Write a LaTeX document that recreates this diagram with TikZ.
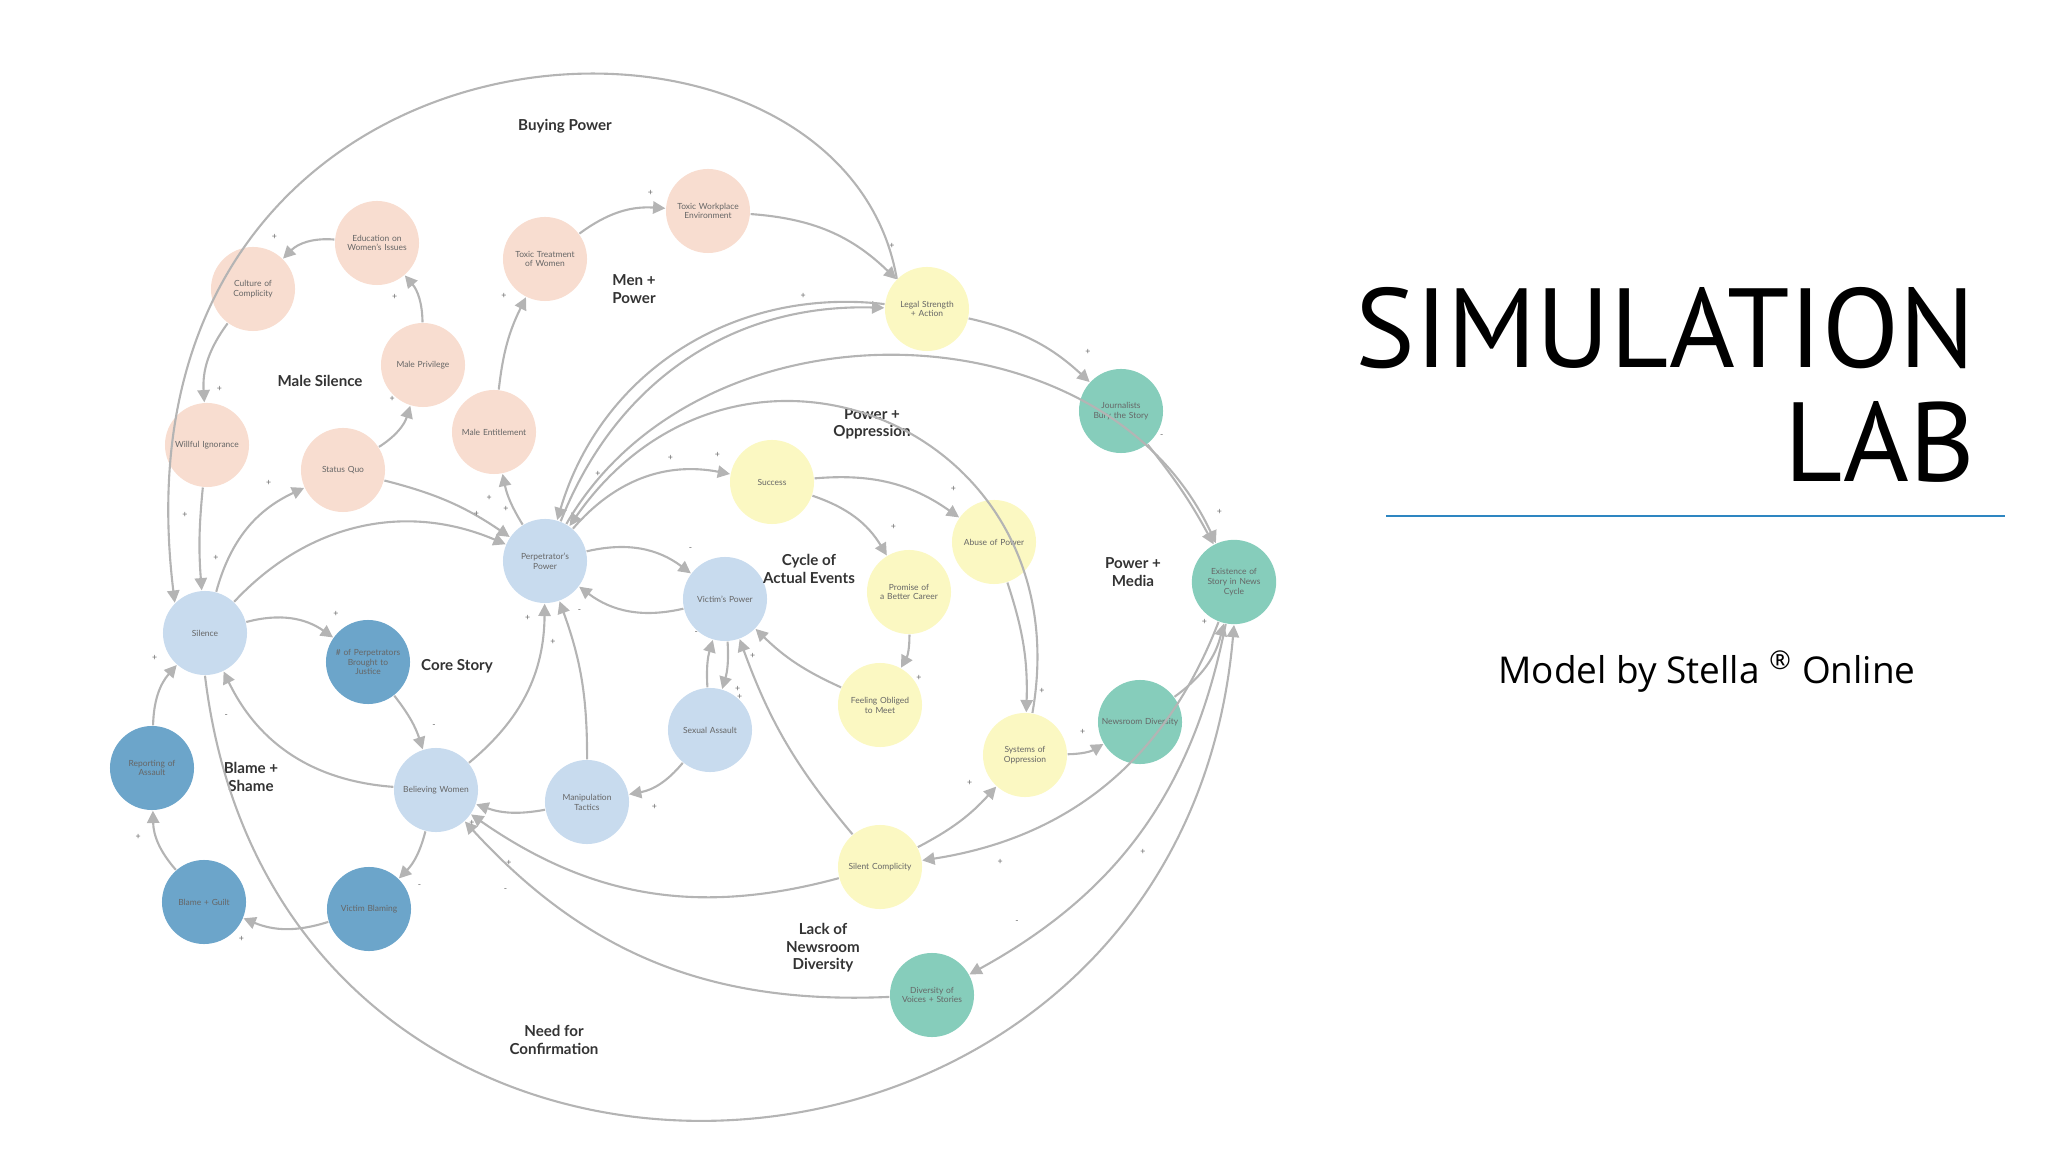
\documentclass[tikz,border=0pt]{standalone}
\usepackage{fontspec}
\setmainfont{Lato}
\newfontfamily\titlefont{PT Sans}
\newfontfamily\subfont{Open Sans}
\usetikzlibrary{arrows.meta}
\definecolor{peach}{HTML}{F8DDD0}
\definecolor{lemon}{HTML}{FBF8C2}
\definecolor{sky}{HTML}{C8DBEE}
\definecolor{deepsky}{HTML}{6CA5CA}
\definecolor{teal}{HTML}{86CDBB}
\definecolor{wire}{HTML}{B4B4B4}
\definecolor{rule}{HTML}{2E86C1}
\tikzset{
  var/.style={circle, minimum size=0.84cm, inner sep=0pt, align=center, text width=0.8cm,
    font=\fontsize{2.4}{2.8}\selectfont, text=black!60},
  pk/.style={var, fill=peach},
  yl/.style={var, fill=lemon},
  lb/.style={var, fill=sky},
  db/.style={var, fill=deepsky},
  tl/.style={var, fill=teal},
  grp/.style={align=center, font=\fontsize{4.3}{5}\selectfont\bfseries, text=black!80},
  lnk/.style={draw=wire, line width=0.6pt, -{Triangle[length=3.5pt,width=3.5pt]}},
  sg/.style={font=\fontsize{2.5}{3}\selectfont, text=black!60, pos=0.85, auto}
}
\begin{document}
\begin{tikzpicture}[x=0.01cm, y=-0.01cm]
  \useasboundingbox (0,0) rectangle (2048,1152);
  % male silence
  \node[pk] (cul) at (253,289) {Culture of\\Complicity};
  \node[pk] (edu) at (377,243) {Education on\\Women's Issues};
  \node[pk] (prv) at (423,365) {Male Privilege};
  \node[pk] (wil) at (207,445) {Willful Ignorance};
  \node[pk] (sq)  at (343,470) {Status Quo};
  % men + power
  \node[pk] (ent) at (494,432) {Male Entitlement};
  \node[pk] (ttw) at (545,259) {Toxic Treatment\\of Women};
  \node[pk] (twe) at (708,211) {Toxic Workplace\\Environment};
  \node[yl] (leg) at (927,309) {Legal Strength\\+ Action};
  % media
  \node[tl] (jou) at (1121,411) {Journalists\\Bury the Story};
  \node[tl] (ex)  at (1234,582) {Existence of\\Story in News\\Cycle};
  \node[tl] (nd)  at (1140,722) {Newsroom Diversity};
  \node[tl] (dv)  at (932,995) {Diversity of\\Voices + Stories};
  % oppression
  \node[yl] (suc) at (772,482) {Success};
  \node[yl] (ab)  at (994,542) {Abuse of Power};
  \node[yl] (pro) at (909,592) {Promise of\\a Better Career};
  \node[yl] (fo)  at (880,705) {Feeling Obliged\\to Meet};
  \node[yl] (sys) at (1025,755) {Systems of\\Oppression};
  \node[yl] (sc)  at (880,867) {Silent Complicity};
  % core
  \node[lb] (pp)  at (545,561) {Perpetrator's\\Power};
  \node[lb] (vp)  at (725,599) {Victim's Power};
  \node[lb] (sa)  at (710,730) {Sexual Assault};
  \node[lb] (mt)  at (587,802) {Manipulation\\Tactics};
  \node[lb] (bw)  at (436,790) {Believing Women};
  \node[lb] (sil) at (205,633) {Silence};
  \node[db] (np)  at (368,662) {\# of Perpetrators\\Brought to\\Justice};
  \node[db] (rep) at (152,768) {Reporting of\\Assault};
  \node[db] (bg)  at (204,902) {Blame + Guilt};
  \node[db] (vb)  at (369,909) {Victim Blaming};
  % group labels
  \node[grp] (g1) at (565,126) {Buying Power};
  \node[grp] (g2) at (320,381) {Male Silence};
  \node[grp] (g3) at (634,289) {Men +\\Power};
  \node[grp] (g4) at (872,424) {Power +\\Oppression};
  \node[grp] (g5) at (809,569) {Cycle of\\Actual Events};
  \node[grp] (g6) at (1133,572) {Power +\\Media};
  \node[grp] (g7) at (457,666) {Core Story};
  \node[grp] (g8) at (251,777) {Blame +\\Shame};
  \node[grp] (g9) at (823,948) {Lack of\\Newsroom\\Diversity};
  \node[grp] (g10) at (554,1040) {Need for\\Confirmation};
  % links
  \draw[lnk] (edu) to[bend right=25] node[sg,swap]{+} (cul);
  \draw[lnk] (cul) to[bend right=20] node[sg]{+} (wil);
  \draw[lnk] (prv) to[bend right=20] node[sg]{+} (edu);
  \draw[lnk] (sq) to[bend right=20] node[sg]{+} (prv);
  \draw[lnk] (wil) to[bend right=5] node[sg]{+} (sil);
  \draw[lnk] (sil) to[bend left=25] node[sg]{+} (sq);
  \draw[lnk] (sq) to[bend left=10] node[sg]{+} (pp);
  \draw[lnk] (sil) to[bend left=35] node[sg]{+} (pp);
  \draw[lnk] (pp) to[bend left=10] node[sg]{+} (ent);
  \draw[lnk] (ent) to[bend left=10] node[sg]{+} (ttw);
  \draw[lnk] (ttw) to[bend left=20] node[sg]{+} (twe);
  \draw[lnk] (twe) to[bend left=20] node[sg]{+} (leg);
  \draw[lnk] (leg) to[bend right=40] node[sg]{+} (pp);
  \draw[lnk] (pp) to[bend left=35] node[sg]{+} (leg);
  \draw[lnk] (leg) to[bend left=15] node[sg]{+} (jou);
  \draw[lnk] (jou) to[bend left=5] node[sg]{+} (ex);
  \draw[lnk] (leg.north west) .. controls (840,-50) and (100,-10) .. node[sg,pos=0.95]{+} (sil.north west);
  \draw[lnk] (pp) to[out=60,in=115,looseness=1.05] node[sg]{-} (ex);
  \draw[lnk] (sys) to[out=80,in=55,looseness=1.5] node[sg]{+} (pp);
  \draw[lnk] (pp) to[bend left=30] node[sg]{+} (suc);
  \draw[lnk] (suc) to[bend left=20] node[sg]{+} (ab);
  \draw[lnk] (suc) to[bend left=20] node[sg]{+} (pro);
  \draw[lnk] (pro) to[bend left=15] node[sg]{+} (fo);
  \draw[lnk] (fo) to[bend left=10] node[sg]{+} (vp);
  \draw[lnk] (ab) to[bend left=10] node[sg]{+} (sys);
  \draw[lnk] (sys) to[bend right=15] node[sg]{+} (nd);
  \draw[lnk] (sc) to[bend right=10] node[sg]{+} (sys);
  \draw[lnk] (sc) to[bend left=10] node[sg]{+} (vp);
  \draw[lnk] (nd) to[bend right=20] node[sg]{+} (ex);
  \draw[lnk] (ex) to[bend left=30] node[sg]{+} (sc);
  \draw[lnk] (ex) to[bend left=25] node[sg,swap]{-} (dv);
  \draw[lnk] (sil.south) .. controls (280,1300) and (1180,1250) .. node[sg]{+} (ex.south);
  \draw[lnk] (dv) to[bend left=25] node[sg]{-} (bw);
  \draw[lnk] (sc) to[bend left=25] node[sg]{+} (bw);
  \draw[lnk] (pp) to[bend left=25] node[sg]{-} (vp);
  \draw[lnk] (vp) to[bend left=25] node[sg]{-} (pp);
  \draw[lnk] (sa) to[bend left=10] node[sg]{-} (vp);
  \draw[lnk] (vp) to[bend left=10] node[sg]{+} (sa);
  \draw[lnk] (sa) to[bend left=20] node[sg]{+} (mt);
  \draw[lnk] (mt) to[bend left=15] node[sg]{+} (bw);
  \draw[lnk] (mt) to[bend right=10] node[sg]{+} (pp);
  \draw[lnk] (bw) to[bend right=25] node[sg]{+} (pp);
  \draw[lnk] (bw) to[bend left=30] node[sg]{-} (sil);
  \draw[lnk] (sil) to[bend left=25] node[sg]{+} (np);
  \draw[lnk] (np) to[bend left=10] node[sg]{-} (bw);
  \draw[lnk] (bw) to[bend left=15] node[sg]{-} (vb);
  \draw[lnk] (vb) to[bend left=20] node[sg]{+} (bg);
  \draw[lnk] (bg) to[bend left=20] node[sg]{+} (rep);
  \draw[lnk] (rep) to[bend left=20] node[sg]{+} (sil);
  % title
  \node[anchor=south east, inner sep=0pt, font=\titlefont\fontsize{32}{36}\selectfont] (t1) at (1976,370) {SIMULATION};
  \node[anchor=south east, inner sep=0pt, font=\titlefont\fontsize{32}{36}\selectfont] (t2) at (1976,483) {LAB};
  \draw[rule, line width=0.8pt] (1386,516) -- (2005,516);
  \node[font=\subfont\fontsize{10.5}{12}\selectfont] (sub) at (1707,672) {Model by Stella \textsuperscript{\textregistered} Online};
\end{tikzpicture}
\end{document}
